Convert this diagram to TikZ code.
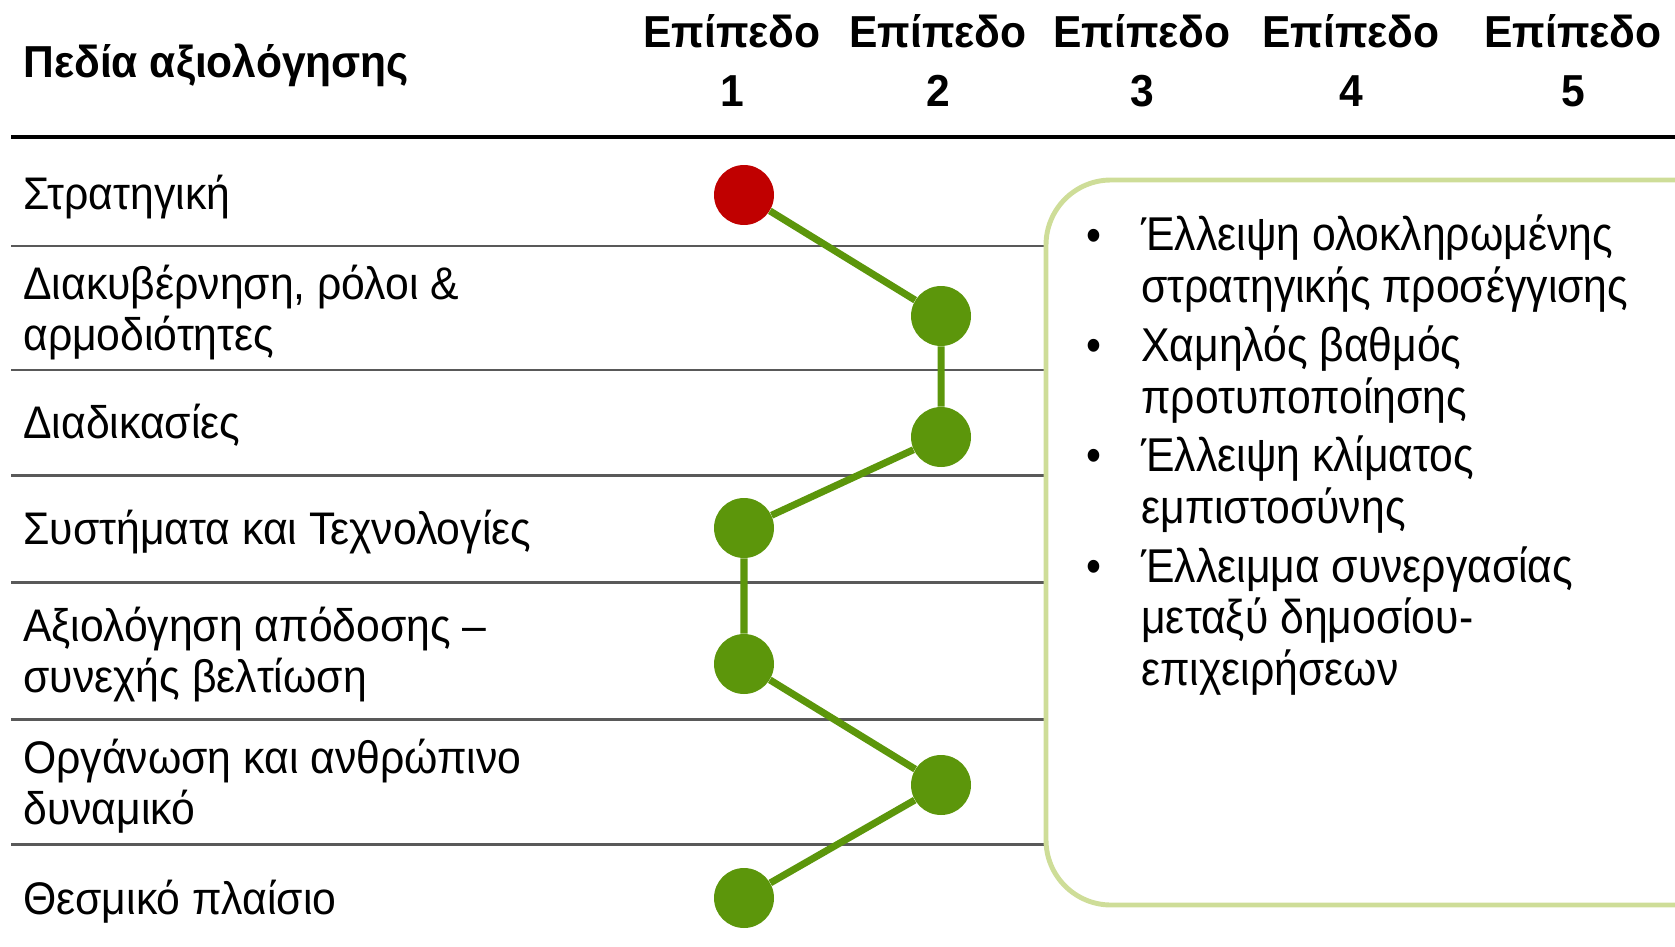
\documentclass[tikz,border=0pt]{standalone}
\usepackage{fontspec}
\setmainfont{Liberation Sans}
\newfontfamily\etroit[FakeStretch=0.935]{Liberation Sans}
\newfontfamily\entete[FakeStretch=0.95]{Liberation Sans}
\newfontfamily\encadre[FakeStretch=0.9]{Liberation Sans}
\definecolor{vert}{HTML}{5C960B}
\definecolor{rouge}{HTML}{C00000}
\definecolor{cadre}{HTML}{CEDD98}
\definecolor{gris}{HTML}{595959}
\begin{document}
\begin{tikzpicture}[x=0.02cm,y=-0.02cm,
    pastille/.style={circle,fill=vert,minimum size=1.2cm,inner sep=0pt},
    lien/.style={draw=vert,line width=4pt},
    ligne/.style={draw=gris,line width=1.7pt},
    domaine/.style={anchor=base west,align=left,inner sep=0pt,font=\etroit\fontsize{26}{28.9}\selectfont},
    niveau/.style={anchor=base,align=center,inner sep=0pt,font=\entete\fontsize{25.5}{34}\selectfont\bfseries},
    constat/.style={anchor=base west,align=left,inner sep=0pt,font=\encadre\fontsize{27}{29.2}\selectfont}]
      \useasboundingbox (0,0) rectangle (1675,946);
      \clip (0,0) rectangle (1675,946);

      % En-tete
      \node[anchor=base west,inner sep=0pt,font=\entete\fontsize{25.5}{30}\selectfont\bfseries] (titre) at (23,77) {Πεδία αξιολόγησης};
      \node[niveau] (n1) at (732,107) {Επίπεδο\\1};
      \node[niveau] (n2) at (938,107) {Επίπεδο\\2};
      \node[niveau] (n3) at (1142,107) {Επίπεδο\\3};
      \node[niveau] (n4) at (1351,107) {Επίπεδο\\4};
      \node[niveau] (n5) at (1573,107) {Επίπεδο\\5};
      \draw[line width=2.2pt] (11,137) -- (1675,137);

      % Lignes du tableau
      \foreach \y in {246,370,475,582,719,844} {%
        \draw[ligne] (11,\y) -- (1046,\y);
      }

      % Domaines (base = derniere ligne)
      \node[domaine] (d1) at (23,209) {Στρατηγική};
      \node[domaine] (d2) at (23,350) {Διακυβέρνηση, ρόλοι \&\\αρμοδιότητες};
      \node[domaine] (d3) at (23,438) {Διαδικασίες};
      \node[domaine] (d4) at (23,544) {Συστήματα και Τεχνολογίες};
      \node[domaine] (d5) at (23,692) {Αξιολόγηση απόδοσης –\\συνεχής βελτίωση};
      \node[domaine] (d6) at (23,824) {Οργάνωση και ανθρώπινο\\δυναμικό};
      \node[domaine] (d7) at (23,914) {Θεσμικό πλαίσιο};

      % Niveaux
      \node[pastille,fill=rouge] (p1) at (744,195) {};
      \node[pastille] (p2) at (941,316) {};
      \node[pastille] (p3) at (941,437) {};
      \node[pastille] (p4) at (744,528) {};
      \node[pastille] (p5) at (744,664) {};
      \node[pastille] (p6) at (941,785) {};
      \node[pastille] (p7) at (744,898) {};
      \draw[lien] (p1) -- (p2) -- (p3) -- (p4) -- (p5) -- (p6) -- (p7);

      % Encadre
      \draw[draw=cadre,line width=2.8pt,rounded corners=1.3cm] (1046,180) rectangle (1760,905);
      \node[constat] (b1) at (1086,251) {•};
      \node[constat] (c1) at (1141,302) {Έλλειψη ολοκληρωμένης\\στρατηγικής προσέγγισης};
      \node[constat] (b2) at (1086,361) {•};
      \node[constat] (c2) at (1141,413) {Χαμηλός βαθμός\\προτυποποίησης};
      \node[constat] (b3) at (1086,471) {•};
      \node[constat] (c3) at (1141,523) {Έλλειψη κλίματος\\εμπιστοσύνης};
      \node[constat] (b4) at (1086,582) {•};
      \node[constat] (c4) at (1141,685) {Έλλειμμα συνεργασίας\\μεταξύ δημοσίου-\\επιχειρήσεων};
    \end{tikzpicture}
\end{document}
